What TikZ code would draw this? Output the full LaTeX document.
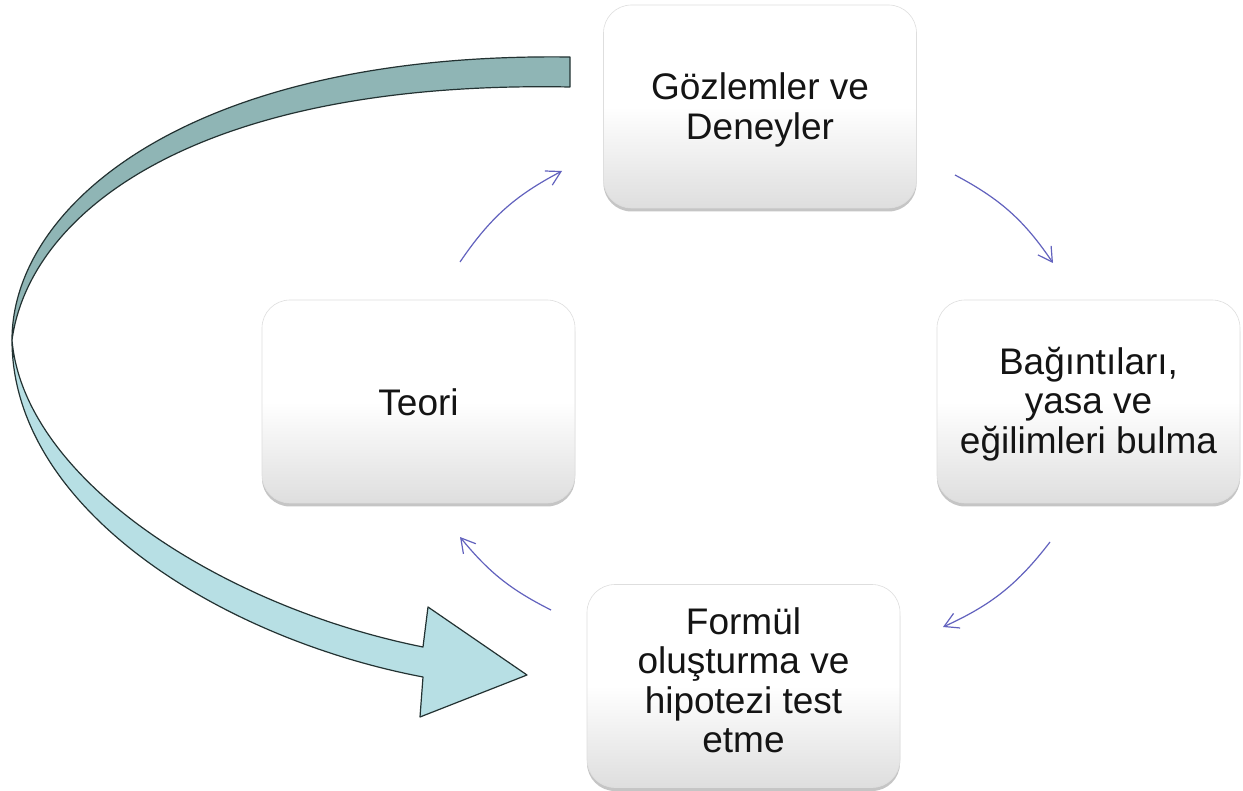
\documentclass[tikz,border=0pt]{standalone}
\usepackage{fontspec}
\setmainfont{Liberation Sans}
\usetikzlibrary{arrows.meta,shadows}
\definecolor{arrowblue}{RGB}{98,98,190}
\definecolor{ribbondark}{RGB}{143,181,181}
\definecolor{ribbonlight}{RGB}{183,223,228}
\definecolor{ribbonline}{RGB}{35,50,50}
\definecolor{boxline}{RGB}{222,222,222}
\definecolor{boxbottom}{RGB}{222,222,222}
\begin{document}
\begin{tikzpicture}[x=1pt,y=-1pt,
  box/.style={rectangle, rounded corners=28pt, minimum width=313pt, minimum height=203pt,
    draw=boxline, line width=0.6pt, top color=white, bottom color=boxbottom, middle color=white,
    drop shadow={shadow xshift=0pt, shadow yshift=-3.5pt, opacity=0.45}},
  txt/.style={font=\fontsize{37}{39.5}\selectfont, align=center, inner sep=0pt, text=black!92},
  cyc/.style={draw=arrowblue, line width=1.2pt, -{Straight Barb[length=14pt,width=16pt]}},
  ribbon/.style={draw=ribbonline, line width=1.2pt, line join=round}]
\useasboundingbox (0,0) rectangle (1243,791);
\fill[white] (0,0) rectangle (1243,791);

% boxes
\node[box] (G) at (760,106.5) {};
\node[txt] (Gt) at (760,110) {Gözlemler ve\\Deneyler};
\node[box, minimum width=303pt] (B) at (1088.5,401.5) {};
\node[txt] (Bt) at (1088.5,403.7) {Bağıntıları,\\yasa ve\\eğilimleri bulma};
\node[box] (F) at (743.5,686) {};
\node[txt] (Ft) at (743.5,680.5) {Formül\\oluşturma ve\\hipotezi test\\etme};
\node[box] (T) at (418.5,401.5) {};
\node[txt] (Tt) at (418.5,402) {Teori};

% cycle arrows
\coordinate (a1s) at (460,262); \coordinate (a1e) at (562,171);
\coordinate (a2s) at (955,175); \coordinate (a2e) at (1053,263);
\coordinate (a3s) at (1050,542); \coordinate (a3e) at (943,627);
\coordinate (a4s) at (551,610); \coordinate (a4e) at (460,537);
\draw[cyc] (a1s) to[bend left=14] (a1e);
\draw[cyc] (a2s) to[bend left=14] (a2e);
\draw[cyc] (a3s) to[bend left=14] (a3e);
\draw[cyc] (a4s) to[bend left=12] (a4e);

% big curved ribbon arrow (twisted band)
\coordinate (rtop1) at (570,57);
\coordinate (rtop2) at (570,87);
\coordinate (rtw) at (12,340);
\coordinate (rn1) at (423,677);
\coordinate (rc1) at (420,717);
\coordinate (rtip) at (527,675);
\coordinate (rc2) at (428,607);
\coordinate (rn2) at (423,647);
\filldraw[ribbon, fill=ribbondark]
  (rtop1) .. controls (190,52) and (12,205) .. (rtw)
  .. controls (30,210) and (200,80) .. (rtop2) -- cycle;
\filldraw[ribbon, fill=ribbonlight]
  (rtw) .. controls (12,510) and (223,639) .. (rn1)
  -- (rc1) -- (rtip) -- (rc2) -- (rn2)
  .. controls (223,607) and (24,480) .. (rtw) -- cycle;
\end{tikzpicture}
\end{document}
